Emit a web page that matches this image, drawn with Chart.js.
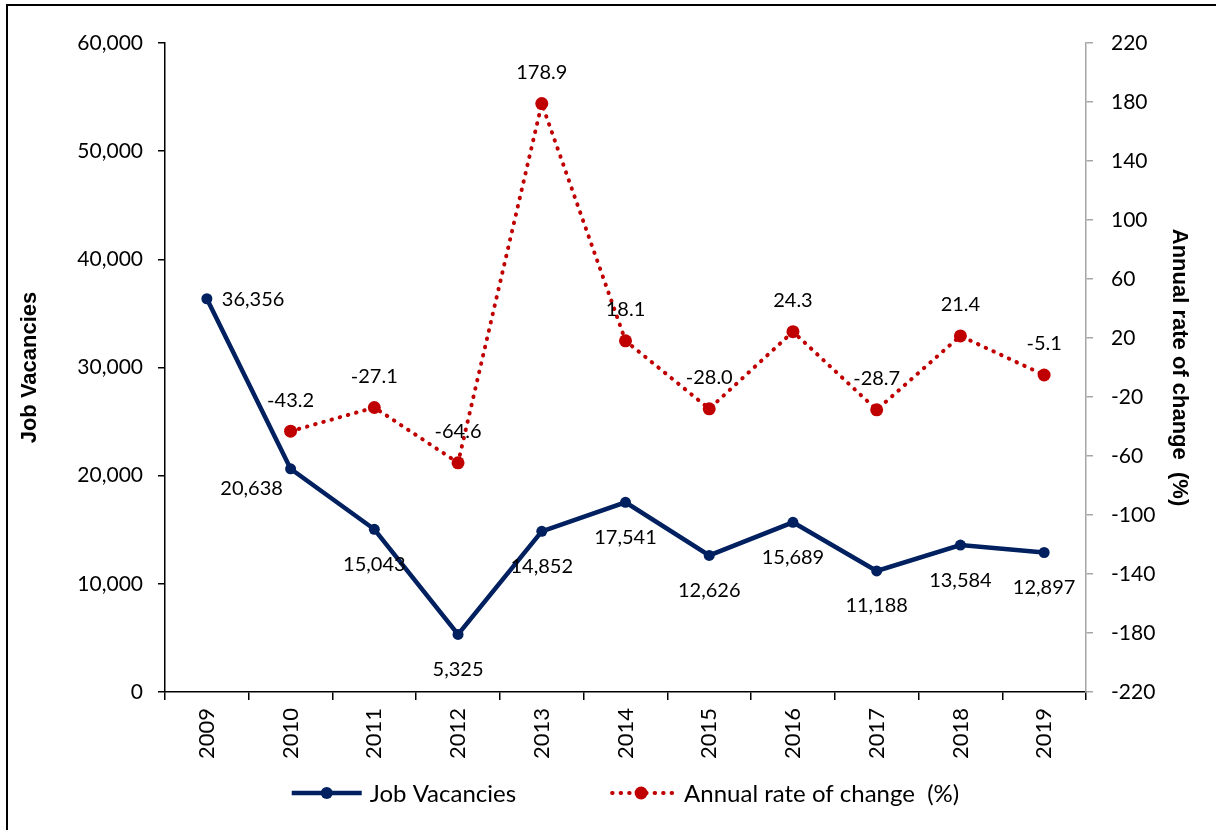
<!DOCTYPE html>
<html>
<head>
<meta charset="utf-8">
<title>Job Vacancies</title>
<script src="https://cdn.jsdelivr.net/npm/chart.js@4/dist/chart.umd.min.js"></script>
<style>
  html, body { margin: 0; padding: 0; background: #fff; }
  #wrap { width: 1223px; height: 830px; }
</style>
</head>
<body>
<div id="wrap"><canvas id="chart" width="1223" height="830"></canvas></div>
<script>
// chart data
const years = ['2009', '2010', '2011', '2012', '2013', '2014', '2015', '2016', '2017', '2018', '2019'];
const vacancies = [36356, 20638, 15043, 5325, 14852, 17541, 12626, 15689, 11188, 13584, 12897];
const rateOfChange = [null, -43.2, -27.1, -64.6, 178.9, 18.1, -28.0, 24.3, -28.7, 21.4, -5.1];
const vacancyTicks = { min: 0, max: 60000, step: 10000 };
const rateTicks = { min: -220, max: 220, step: 40 };

// where each vacancy label sits relative to its point
const vacancyLabelPos = ['right', 'belowLeft', 'below', 'below', 'below', 'below', 'below', 'below', 'below', 'below', 'below'];

const NAVY = '#002060';
const RED = '#c00000';
const FONT = 'Lato, "Open Sans", sans-serif';
const TITLE_FONT = '"Liberation Sans", Arial, sans-serif';

const fmtInt = v => v.toLocaleString('en-US');
const fmtRate = v => v.toFixed(1);

// frame on left and top, like the original export
const framePlugin = {
    id: 'frame',
    beforeDraw(chart) {
        const ctx = chart.ctx;
        ctx.save();
        ctx.fillStyle = '#fff';
        ctx.fillRect(0, 0, chart.width, chart.height);
        ctx.strokeStyle = '#000';
        ctx.lineWidth = 2;
        ctx.beginPath();
        ctx.moveTo(7, chart.height);
        ctx.lineTo(7, 5);
        ctx.lineTo(1216, 5);
        ctx.stroke();
        ctx.restore();
    }
};

// value labels next to the points
const valueLabels = {
    id: 'valueLabels',
    afterDatasetsDraw(chart) {
        const ctx = chart.ctx;
        ctx.save();
        ctx.font = '20px ' + FONT;
        ctx.fillStyle = '#000';
        ctx.textBaseline = 'middle';

        chart.getDatasetMeta(0).data.forEach((pt, i) => {
            const txt = fmtInt(vacancies[i]);
            const pos = vacancyLabelPos[i];
            if (pos === 'right') {
                ctx.textAlign = 'left';
                ctx.fillText(txt, pt.x + 15, pt.y + 1);
            } else if (pos === 'belowLeft') {
                ctx.textAlign = 'center';
                ctx.fillText(txt, pt.x - 39, pt.y + 20);
            } else {
                ctx.textAlign = 'center';
                ctx.fillText(txt, pt.x, pt.y + 35);
            }
        });

        chart.getDatasetMeta(1).data.forEach((pt, i) => {
            if (rateOfChange[i] === null) return;
            ctx.textAlign = 'center';
            ctx.fillText(fmtRate(rateOfChange[i]), pt.x, pt.y - 31);
        });
        ctx.restore();
    }
};

// legend drawn by hand so the samples show line + marker
const lineLegend = {
    id: 'lineLegend',
    afterDraw(chart) {
        const ctx = chart.ctx;
        const area = chart.chartArea;
        const y = 793;
        ctx.save();
        ctx.font = '24px ' + FONT;
        ctx.textBaseline = 'middle';
        ctx.textAlign = 'left';

        const items = [
            { label: 'Job Vacancies', color: NAVY, dotted: false, r: 6 },
            { label: 'Annual rate of change  (%)', color: RED, dotted: true, r: 6.5 }
        ];
        const sample = 70, gapText = 8, gapItem = 90;
        let total = 0;
        items.forEach((it, i) => {
            it.w = sample + gapText + ctx.measureText(it.label).width;
            total += it.w + (i ? gapItem : 0);
        });
        let x = (area.left + area.right) / 2 - total / 2;

        items.forEach(it => {
            ctx.strokeStyle = it.color;
            ctx.fillStyle = it.color;
            ctx.lineWidth = it.dotted ? 4 : 4.5;
            ctx.lineCap = it.dotted ? 'round' : 'butt';
            ctx.setLineDash(it.dotted ? [0.5, 8] : []);
            ctx.beginPath();
            ctx.moveTo(x + (it.dotted ? 6 : 0), y);
            ctx.lineTo(x + sample, y);
            ctx.stroke();
            ctx.setLineDash([]);
            ctx.beginPath();
            ctx.arc(x + sample / 2, y, it.r, 0, Math.PI * 2);
            ctx.fill();
            ctx.fillStyle = '#000';
            ctx.fillText(it.label, x + sample + gapText, y + 1);
            x += it.w + gapItem;
        });
        ctx.restore();
    }
};

const ctx = document.getElementById('chart').getContext('2d');
new Chart(ctx, {
    type: 'line',
    data: {
        labels: years,
        datasets: [{
            label: 'Job Vacancies',
            data: vacancies,
            yAxisID: 'y',
            borderColor: NAVY,
            backgroundColor: NAVY,
            borderWidth: 4.5,
            pointRadius: 5.5,
            pointHoverRadius: 5.5,
            pointBorderWidth: 0,
            tension: 0
        }, {
            label: 'Annual rate of change  (%)',
            data: rateOfChange,
            yAxisID: 'y1',
            borderColor: RED,
            backgroundColor: RED,
            borderWidth: 4,
            borderDash: [0.5, 8],
            borderCapStyle: 'round',
            pointRadius: 6.5,
            pointHoverRadius: 6.5,
            pointBorderWidth: 0,
            spanGaps: false,
            tension: 0
        }]
    },
    options: {
        responsive: false,
        devicePixelRatio: 1,
        animation: false,
        layout: { padding: { top: 43, left: 0, right: 0, bottom: 0 } },
        plugins: {
            legend: { display: false },
            tooltip: { enabled: false }
        },
        scales: {
            x: {
                offset: true,
                grid: {
                    offset: true,
                    drawOnChartArea: false,
                    drawTicks: true,
                    tickLength: 8,
                    color: '#000',
                    lineWidth: 1.5
                },
                border: { color: '#000', width: 1.5 },
                ticks: {
                    color: '#000',
                    font: { family: FONT, size: 22 },
                    minRotation: 90,
                    maxRotation: 90,
                    padding: 8,
                    autoSkip: false
                },
                afterFit: s => { s.height = 138; }
            },
            y: {
                position: 'left',
                min: vacancyTicks.min,
                max: vacancyTicks.max,
                grid: {
                    drawOnChartArea: false,
                    tickLength: 7,
                    color: '#000',
                    lineWidth: 1.5
                },
                border: { color: '#000', width: 1.5 },
                ticks: {
                    stepSize: vacancyTicks.step,
                    color: '#000',
                    font: { family: FONT, size: 21 },
                    padding: 15,
                    callback: v => fmtInt(v)
                },
                title: {
                    display: true,
                    text: 'Job Vacancies',
                    color: '#000',
                    font: { family: TITLE_FONT, size: 22, weight: 'bold' },
                    padding: { top: 17, bottom: 0 }
                },
                afterFit: s => { s.width = 165; }
            },
            y1: {
                position: 'right',
                min: rateTicks.min,
                max: rateTicks.max,
                grid: {
                    drawOnChartArea: false,
                    tickLength: 7,
                    color: '#a6a6a6',
                    lineWidth: 1.5
                },
                border: { color: '#a6a6a6', width: 1.5 },
                ticks: {
                    stepSize: rateTicks.step,
                    color: '#000',
                    font: { family: FONT, size: 21 },
                    padding: 18,
                    callback: v => v
                },
                title: {
                    display: true,
                    text: 'Annual rate of change  (%)',
                    color: '#000',
                    font: { family: TITLE_FONT, size: 22, weight: 'bold' },
                    padding: { top: 31, bottom: 0 }
                },
                afterFit: s => { s.width = 137; }
            }
        }
    },
    plugins: [framePlugin, valueLabels, lineLegend]
});
</script>
</body>
</html>
